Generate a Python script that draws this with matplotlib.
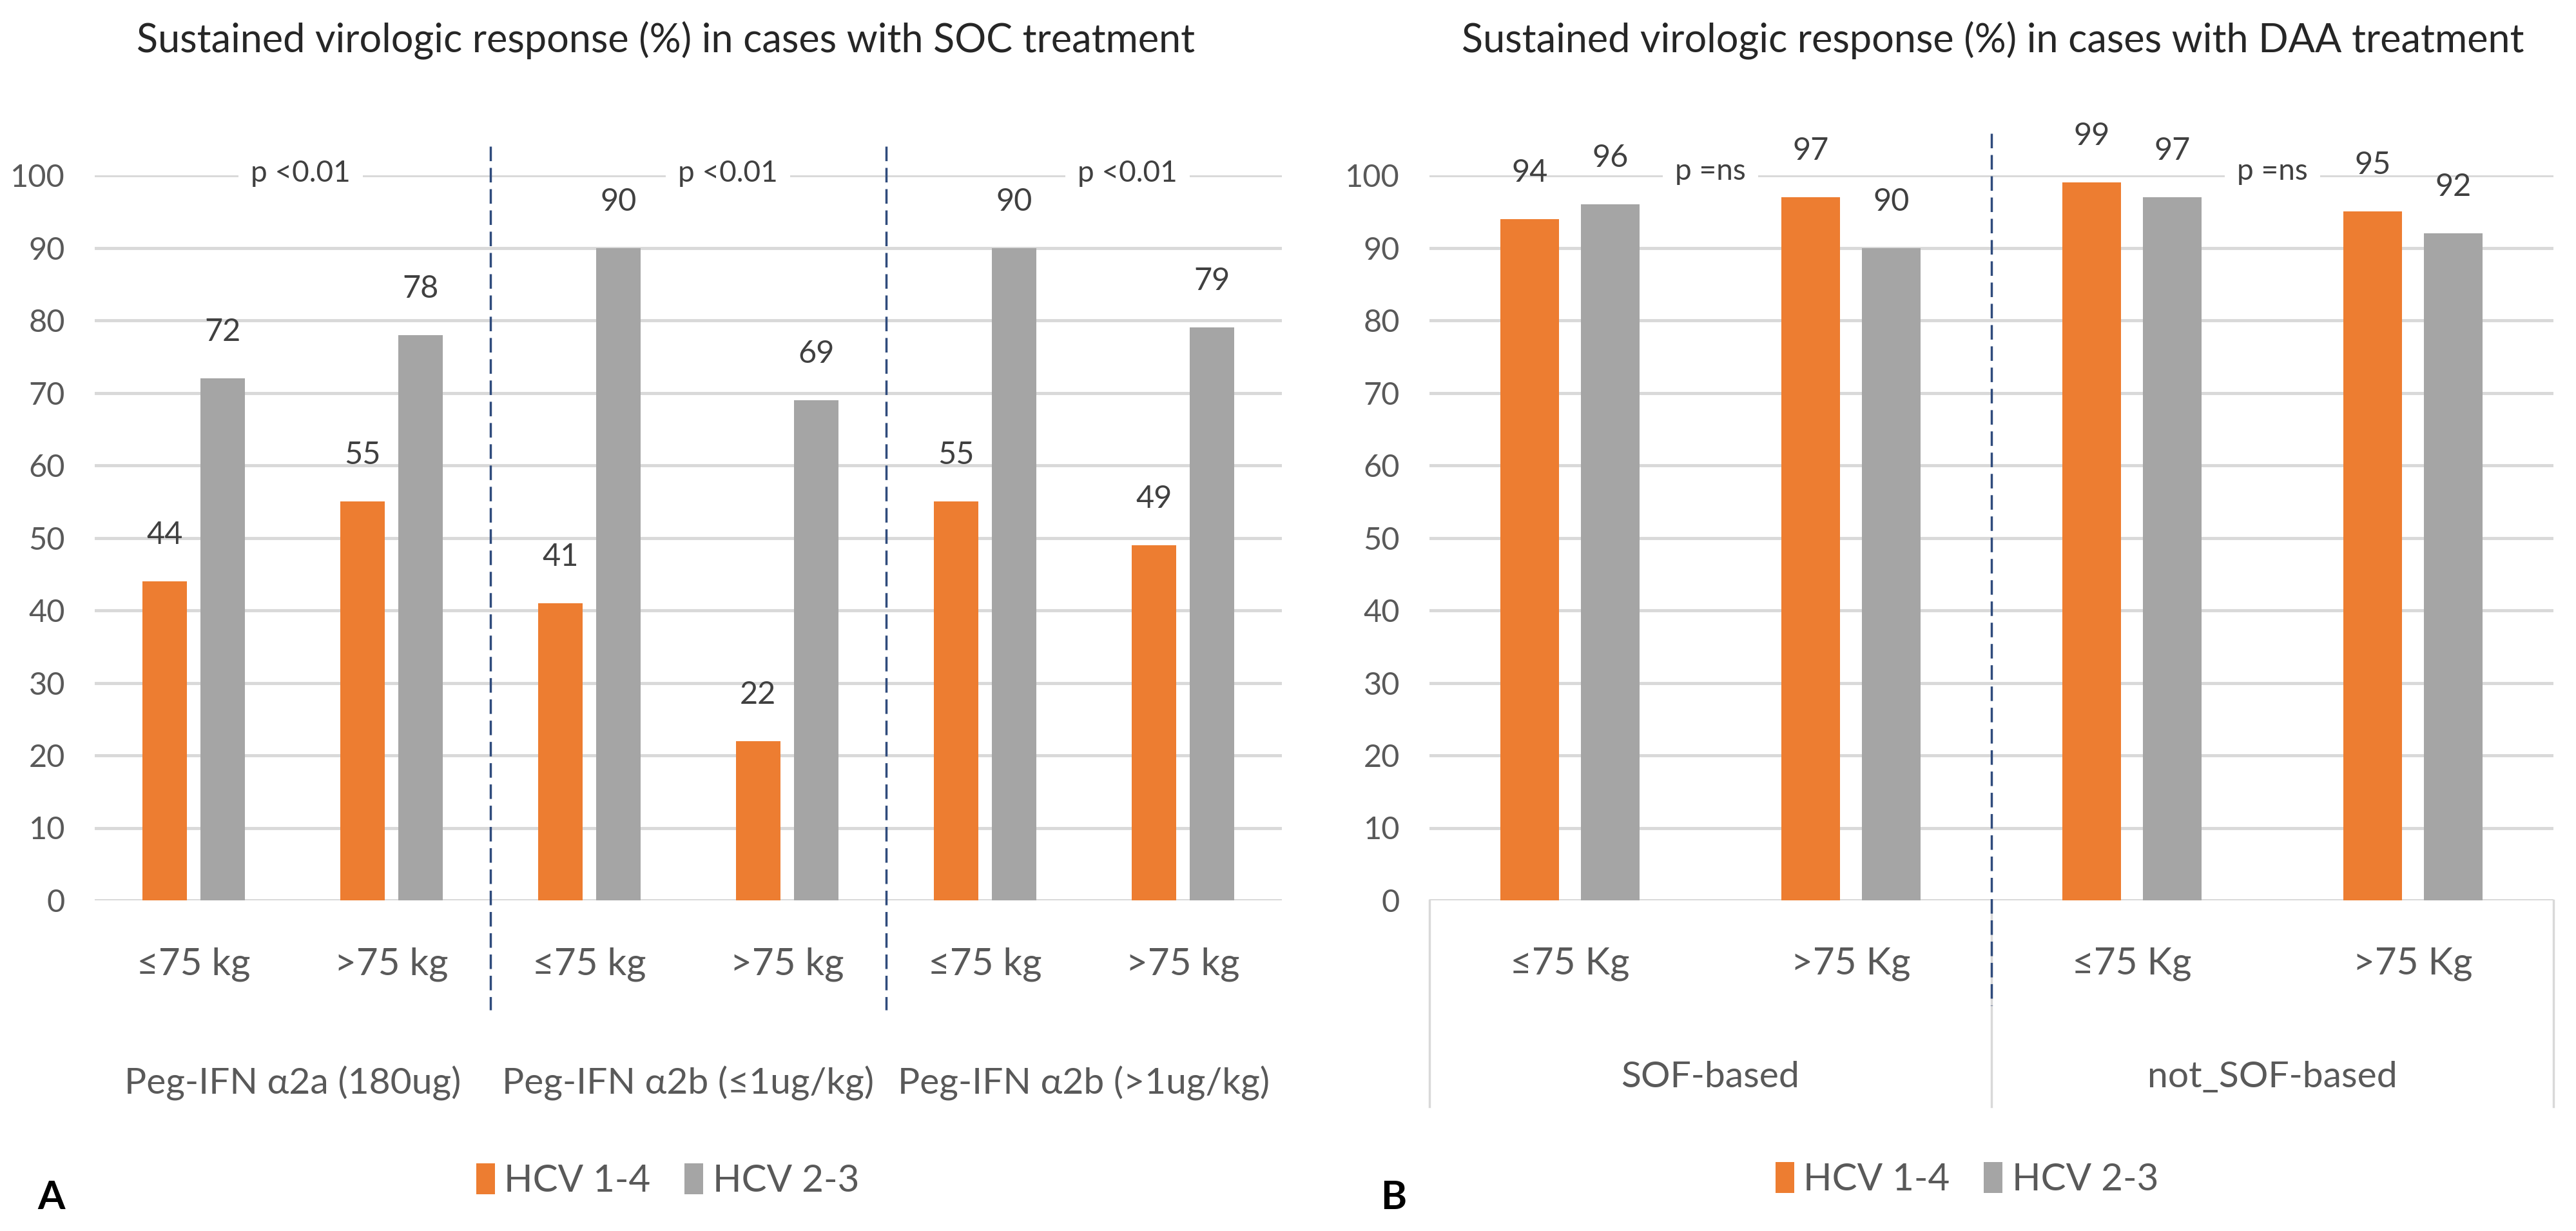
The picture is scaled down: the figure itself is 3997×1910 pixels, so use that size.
import matplotlib
matplotlib.use("Agg")
import matplotlib.pyplot as plt
import numpy as np

# SOC panel (A)
soc_weights = ["≤75 kg", ">75 kg", "≤75 kg", ">75 kg", "≤75 kg", ">75 kg"]
soc_groups = ["Peg-IFN α2a (180ug)", "Peg-IFN α2b (≤1ug/kg)", "Peg-IFN α2b (>1ug/kg)"]
soc_hcv14 = [44, 55, 41, 22, 55, 49]
soc_hcv23 = [72, 78, 90, 69, 90, 79]
soc_p = ["p <0.01", "p <0.01", "p <0.01"]

# DAA panel (B)
daa_weights = ["≤75 Kg", ">75 Kg", "≤75 Kg", ">75 Kg"]
daa_groups = ["SOF-based", "not_SOF-based"]
daa_hcv14 = [94, 97, 99, 95]
daa_hcv23 = [96, 90, 97, 92]
daa_p = ["p =ns", "p =ns"]

series_names = ["HCV 1-4", "HCV 2-3"]

plt.rcParams["font.family"] = ["Lato", "DejaVu Sans"]

ORANGE = "#ED7D31"
GRAY = "#A5A5A5"
GRID = "#D9D9D9"
TEXT = "#595959"
DARK = "#404040"
DASH = "#2F4B7C"

W, H = 3997, 1910
fig = plt.figure(figsize=(W / 100, H / 100), dpi=100)

y_bottom = 1 - 1397 / H
y_height = (1397 - 272) / H
ax1 = fig.add_axes([147 / W, y_bottom, (1989 - 147) / W, y_height])
ax2 = fig.add_axes([2218 / W, y_bottom, (3962 - 2218) / W, y_height])


def draw_panel(ax, weights, hcv14, hcv23, width, offset):
    x = np.arange(len(weights))
    b1 = ax.bar(x - offset, hcv14, width, color=ORANGE, label=series_names[0], zorder=2)
    b2 = ax.bar(x + offset, hcv23, width, color=GRAY, label=series_names[1], zorder=2)
    ax.bar_label(b1, padding=36, fontsize=35, color=DARK)
    ax.bar_label(b2, padding=36, fontsize=35, color=DARK)

    ax.set_xlim(-0.5, len(weights) - 0.5)
    ax.set_ylim(0, 100)
    ax.set_yticks(range(0, 101, 10))
    ax.yaxis.grid(True, color=GRID, lw=3.5)
    ax.set_axisbelow(True)
    for s in ax.spines.values():
        s.set_visible(False)
    ax.set_xticks(x, weights)
    ax.tick_params(axis="x", length=0, pad=52, labelsize=42, labelcolor=TEXT)
    ax.tick_params(axis="y", length=0, pad=33, labelsize=35, labelcolor=TEXT)
    return x


draw_panel(ax1, soc_weights, soc_hcv14, soc_hcv23, 0.225, 0.147)
draw_panel(ax2, daa_weights, daa_hcv14, daa_hcv23, 0.21, 0.143)

# p-values sit on the 100 gridline, with a white box that breaks the line
for i, p in enumerate(soc_p):
    ax1.text(2 * i + 0.5 + [0.04, 0.2, 0.22][i], 100.3, p, ha="center", va="center",
             fontsize=33, color=DARK,
             bbox=dict(facecolor="white", edgecolor="none", pad=14), zorder=3)
for i, p in enumerate(daa_p):
    ax2.text(2 * i + 0.5, 100.5, p, ha="center", va="center", fontsize=33, color=DARK,
             bbox=dict(facecolor="white", edgecolor="none", pad=14), zorder=3)

# group labels under the weight labels
t1 = ax1.get_xaxis_transform()
for i, g in enumerate(soc_groups):
    ax1.text(2 * i + 0.5, -0.267, g, transform=t1, ha="center", va="baseline",
             fontsize=41, color=TEXT)
t2 = ax2.get_xaxis_transform()
for i, g in enumerate(daa_groups):
    ax2.text(2 * i + 0.5, -0.258, g, transform=t2, ha="center", va="baseline",
             fontsize=41, color=TEXT)

# separators
for xs in [-0.5, 1.5, 3.5]:
    ax2.plot([xs, xs], [0, -0.284], transform=t2, color=GRID, lw=2.5, clip_on=False)
ax2.plot([1.5, 1.5], [1.058, -0.145], transform=t2, color=DASH, lw=2.5,
         ls=(0, (6.5, 3)), clip_on=False)
for xs in [1.5, 3.5]:
    ax1.plot([xs, xs], [1.04, -0.151], transform=t1, color=DASH, lw=2.5,
             ls=(0, (6.5, 3)), clip_on=False)

# titles
fig.text(1033 / W, 1 - 80 / H, "Sustained virologic response (%) in cases with SOC treatment",
         ha="center", va="baseline", fontsize=44, color="#262626")
fig.text(3092 / W, 1 - 80 / H, "Sustained virologic response (%) in cases with DAA treatment",
         ha="center", va="baseline", fontsize=44, color="#262626")

# legends
leg_kw = dict(loc="center", ncol=2, frameon=False, fontsize=42, handlelength=0.5,
              handleheight=0.9, handletextpad=0.25, columnspacing=0.9,
              labelcolor=TEXT, bbox_transform=fig.transFigure)
ax1.legend(bbox_to_anchor=(1036 / W, 1 - 1832 / H), **leg_kw)
ax2.legend(bbox_to_anchor=(3052 / W, 1 - 1830 / H), **leg_kw)

# panel letters
fig.text(80 / W, 1 - 1858 / H, "A", ha="center", va="center", fontsize=44, weight="bold")
fig.text(2162 / W, 1 - 1858 / H, "B", ha="center", va="center", fontsize=44, weight="bold")

fig.savefig("out.png", dpi=100, facecolor="white")
